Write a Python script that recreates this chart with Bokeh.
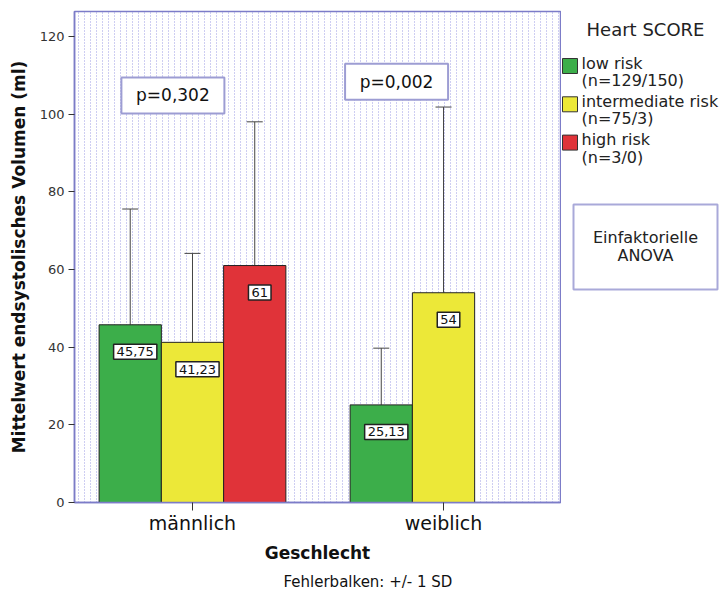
import numpy as np
from bokeh.plotting import figure
from bokeh.layouts import row
from bokeh.models import ColumnDataSource, FixedTicker, Range1d, Title
from bokeh.core.properties import value
from bokeh.embed import file_html
from bokeh.resources import INLINE

# ---------------- data ----------------
groups = ["männlich", "weiblich"]
risk_levels = ["low risk", "intermediate risk", "high risk"]
risk_counts = ["(n=129/150)", "(n=75/3)", "(n=3/0)"]
risk_colors = ["#3cae4a", "#ece838", "#e03339"]
mean_maennlich = [45.75, 41.23, 61.0]
sd_maennlich = [29.8, 22.9, 37.0]
mean_weiblich = [25.13, 54.0]
sd_weiblich = [14.6, 47.8]
value_labels_maennlich = ["45,75", "41,23", "61"]
value_labels_weiblich = ["25,13", "54"]
p_values = ["p=0,302", "p=0,002"]
y_ticks = [0, 20, 40, 60, 80, 100, 120]

FONT = "DejaVu Sans"
FRAME = "#7c7cc8"
BW = 0.248

# ---------------- build bar table ----------------
xs, tops, uppers, cols, labs = [], [], [], [], []
for gi, (means, sds, labels) in enumerate([(mean_maennlich, sd_maennlich, value_labels_maennlich),
                                           (mean_weiblich, sd_weiblich, value_labels_weiblich)]):
    for i, (m, s, l) in enumerate(zip(means, sds, labels)):
        xs.append(gi + 1 + (i - 1) * BW)
        tops.append(m)
        uppers.append(m + s)
        cols.append(risk_colors[i])
        labs.append(l)
src = ColumnDataSource(dict(x=xs, top=tops, upper=uppers, color=cols, label=labs))

x0, x1 = 0.53, 2.466
p = figure(width=561, height=596, x_range=Range1d(x0, x1), y_range=Range1d(0, 126.4),
           output_backend="svg", toolbar_location=None,
           min_border_left=74, min_border_right=1, min_border_top=11, min_border_bottom=94)
p.outline_line_color = FRAME
p.outline_line_width = 1.5
p.background_fill_color = "white"
p.border_fill_color = "white"

# dotted background pattern via grid
px_unit = (x1 - x0) / 486.0
p.xgrid.ticker = FixedTicker(ticks=list(np.arange(x0 + 3.5 * px_unit, x1, 6 * px_unit)))
p.xgrid.grid_line_color = "#9c9ce4"
p.xgrid.grid_line_alpha = 1.0
p.xgrid.grid_line_dash = "1 2"
p.xgrid.grid_line_width = 1
p.ygrid.visible = False

# axes
p.yaxis.ticker = FixedTicker(ticks=y_ticks)
p.yaxis.axis_line_color = FRAME
p.yaxis.axis_line_width = 1.5
p.yaxis.major_tick_line_color = "#333333"
p.yaxis.major_tick_out = 6
p.yaxis.major_tick_in = 0
p.yaxis.minor_tick_out = 0
p.yaxis.minor_tick_in = 0
p.yaxis.major_label_text_font = FONT
p.yaxis.major_label_text_font_size = "13px"
p.yaxis.major_label_text_color = "#333333"
p.yaxis.major_label_standoff = 4
p.yaxis.axis_label = "Mittelwert endsystolisches Volumen (ml)"
p.yaxis.axis_label_text_font = FONT
p.yaxis.axis_label_text_font_size = "17px"
p.yaxis.axis_label_text_font_style = "bold"
p.yaxis.axis_label_text_color = "#111111"
p.yaxis.axis_label_standoff = 8

p.xaxis.ticker = FixedTicker(ticks=[1, 2])
p.xaxis.major_label_overrides = {1: groups[0], 2: groups[1]}
p.xaxis.axis_line_color = FRAME
p.xaxis.axis_line_width = 1.5
p.xaxis.major_tick_line_color = "#333333"
p.xaxis.major_tick_out = 8
p.xaxis.major_tick_in = 0
p.xaxis.minor_tick_out = 0
p.xaxis.minor_tick_in = 0
p.xaxis.major_label_text_font = FONT
p.xaxis.major_label_text_font_size = "19px"
p.xaxis.major_label_text_color = "#111111"
p.xaxis.major_label_standoff = 1
p.xaxis.axis_label = "Geschlecht"
p.xaxis.axis_label_text_font = FONT
p.xaxis.axis_label_text_font_size = "17px"
p.xaxis.axis_label_text_font_style = "bold"
p.xaxis.axis_label_text_color = "#111111"
p.xaxis.axis_label_standoff = 6

# error bars
p.segment(x0="x", y0="top", x1="x", y1="upper", line_color="#444444", line_width=1, source=src)
p.scatter(x="x", y="upper", marker="dash", size=16, line_color="#444444", line_width=1, source=src)

# bars
p.vbar(x="x", top="top", bottom=0, width=BW, fill_color="color", line_color="#222222",
       line_width=1, source=src)

# value labels
p.text(x="x", y="top", text="label", x_offset=5, y_offset=27, text_align="center",
       text_baseline="middle", text_font=value(FONT), text_font_size="13px",
       text_color="#111111", background_fill_color="white", border_line_color="#222222",
       border_line_width=1.5, padding=3, source=src)

# p-value boxes
p_src = ColumnDataSource(dict(x=[1 - 0.078, 2 - 0.187], y=[104.8, 108.3], text=p_values))
p.rect(x="x", y="y", width=103, height=36, width_units="screen", height_units="screen",
       fill_color="white", line_color="#9d9dd3", line_width=2, source=p_src)
p.text(x="x", y="y", text="text", text_align="center", text_baseline="middle",
       text_font=value(FONT), text_font_size="17px", text_color="#111111", source=p_src)

p.add_layout(Title(text="Fehlerbalken: +/- 1 SD", align="left", offset=209,
                   text_font=FONT, text_font_size="15px", text_font_style="normal",
                   text_color="#111111"), "below")

# ---------------- side panel (legend + ANOVA box) ----------------
# frame of this panel is aligned with the main frame (page y 11..502), so use page pixels
s = figure(width=165, height=596, x_range=Range1d(0, 165), y_range=Range1d(502, 11),
           output_backend="svg", toolbar_location=None, min_border=0)
s.outline_line_color = None
s.axis.visible = False
s.grid.visible = False
s.background_fill_color = "white"
s.border_fill_color = "white"

s.text(x=[84], y=[29], text=["Heart SCORE"], text_align="center", text_baseline="middle",
       text_font=value(FONT), text_font_size="18px", text_color="#222222")
sw_y = [65.5 + i * 38.3 for i in range(len(risk_levels))]
s.rect(x=[8.5] * 3, y=sw_y, width=15, height=15, fill_color=risk_colors, line_color="#333333",
       line_width=1)
s.text(x=[20] * 3, y=[v - 3 for v in sw_y], text=risk_levels, text_baseline="middle",
       text_font=value(FONT), text_font_size="16px", text_color="#222222")
s.text(x=[20] * 3, y=[v + 14.5 for v in sw_y], text=risk_counts, text_baseline="middle",
       text_font=value(FONT), text_font_size="16px", text_color="#222222")

s.rect(x=[84], y=[246.5], width=144, height=85, fill_color="white", line_color="#a9a9d9",
       line_width=2)
s.text(x=[84, 84], y=[237, 255], text=["Einfaktorielle", "ANOVA"], text_align="center",
       text_baseline="middle", text_font=value(FONT), text_font_size="16px",
       text_color="#222222")

layout = row(p, s)
open("out.html", "w").write(file_html(layout, INLINE))
